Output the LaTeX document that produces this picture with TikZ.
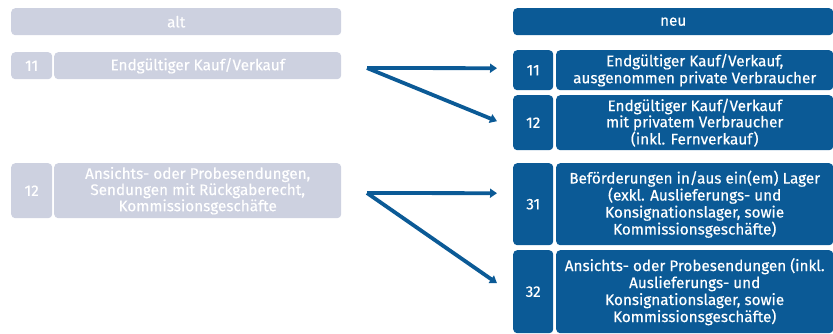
\documentclass[tikz,border=0pt]{standalone}
\usepackage{fontspec}
\setmainfont{Fira Sans}[FakeBold=0.4]
\usetikzlibrary{arrows.meta}
\definecolor{oldgrey}{HTML}{CDD1E0}
\definecolor{newblue}{HTML}{0B5A96}
\tikzset{
  box/.style={rounded corners=4pt, inner sep=0pt, anchor=north west, align=center,
    text=white, font=\fontsize{15.3}{17}\selectfont},
  oldbox/.style={box, fill=oldgrey},
  newbox/.style={box, fill=newblue},
  tight/.style={font=\fontsize{15.3}{14.6}\selectfont},
  conn/.style={draw=newblue, line width=3.8pt, -{Triangle[length=7pt,width=9pt]}}
}
\begin{document}
\begin{tikzpicture}[x=1pt,y=-1pt]
\useasboundingbox (0,0) rectangle (833,334);
% old
\node[oldbox, minimum width=330pt, minimum height=27pt] (alt) at (11,8) {alt};
\node[oldbox, minimum width=41pt, minimum height=27pt] (o11n) at (11,52) {11};
\node[oldbox, minimum width=287pt, minimum height=27pt] (o11t) at (54,52) {Endgültiger Kauf/Verkauf};
\node[oldbox, minimum width=41pt, minimum height=55pt] (o12n) at (11,163) {12};
\node[oldbox, tight, minimum width=287pt, minimum height=55pt] (o12t) at (54,163) {Ansichts- oder Probesendungen,\\Sendungen mit Rückgaberecht,\\Kommissionsgeschäfte};
% new
\node[newbox, minimum width=320pt, minimum height=27pt] (neu) at (513,8) {neu};
\node[newbox, minimum width=40pt, minimum height=40pt] (n11n) at (513,50) {11};
\node[newbox, minimum width=277pt, minimum height=40pt] (n11t) at (556,50) {Endgültiger Kauf/Verkauf,\\ausgenommen private Verbraucher};
\node[newbox, minimum width=40pt, minimum height=55pt] (n12n) at (513,95) {12};
\node[newbox, tight, minimum width=277pt, minimum height=55pt] (n12t) at (556,95) {Endgültiger Kauf/Verkauf\\mit privatem Verbraucher\\(inkl. Fernverkauf)};
\node[newbox, minimum width=40pt, minimum height=82pt] (n31n) at (513,163) {31};
\node[newbox, minimum width=277pt, minimum height=82pt] (n31t) at (556,163) {Beförderungen in/aus ein(em) Lager\\(exkl. Auslieferungs- und\\Konsignationslager, sowie\\Kommissionsgeschäfte)};
\node[newbox, minimum width=40pt, minimum height=83pt] (n32n) at (513,250) {32};
\node[newbox, minimum width=277pt, minimum height=83pt] (n32t) at (556,250) {Ansichts- oder Probesendungen (inkl.\\Auslieferungs- und\\Konsignationslager, sowie\\Kommissionsgeschäfte)};
% connectors
\coordinate (s1) at (367,68);
\coordinate (s2) at (367,193);
\draw[conn] (s1) -- ([xshift=-16pt,yshift=2pt]n11n.west);
\draw[conn] (s1) -- ([xshift=-16pt,yshift=1.5pt]n12n.west);
\draw[conn] (s2) -- ([xshift=-16pt,yshift=11pt]n31n.west);
\draw[conn] (s2) -- ([xshift=-16pt,yshift=8.5pt]n32n.west);
\end{tikzpicture}
\end{document}
